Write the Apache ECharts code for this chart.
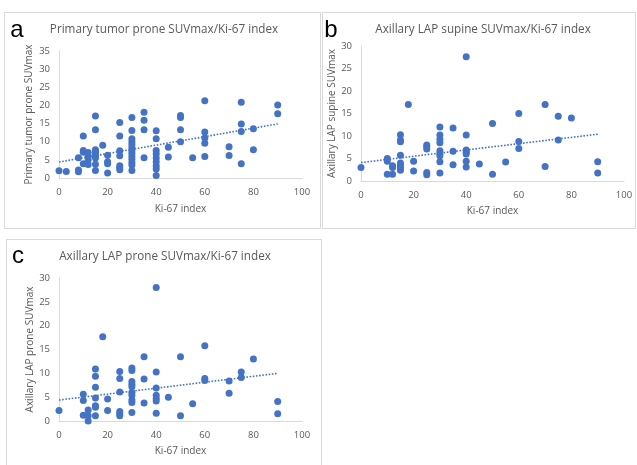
<!DOCTYPE html>
<html>
<head>
<meta charset="utf-8">
<script src="https://cdn.jsdelivr.net/npm/echarts@6/dist/echarts.min.js"></script>
<style>
html,body{margin:0;padding:0;background:#fff;}
#chart{width:637px;height:465px;}
</style>
</head>
<body>
<div id="chart"></div>
<script>
// Panel a: Primary tumor prone SUVmax vs Ki-67 index
var aKi = [0,3,8,8,8,10,10,10,10,12,12,12,12,
  15,15,15,15,15,15,15,15,15,
  18,
  20,20,20,20,
  25,25,25,25,25,25,25,
  30,30,30,30,30,30,30,30,30,30,30,30,30,
  35,35,35,35,
  40,40,40,40,40,40,40,40,40,
  45,45,
  50,50,50,50,
  55,
  60,60,60,60,60,
  70,70,
  75,75,75,75,
  80,80,
  90,90];
var aSuv = [2.0,1.8,2.2,1.7,5.6,11.6,7.6,7.1,3.9,7.0,6.0,5.0,3.7,
  17.1,13.3,7.8,7.3,6.7,6.0,5.5,3.8,2.1,
  9.0,
  6.3,4.5,3.9,1.4,
  15.3,11.6,7.5,6.1,3.4,2.8,2.3,
  16.7,13.1,10.8,10.0,9.2,8.4,7.6,6.8,6.0,5.2,4.3,3.6,2.1,
  18.1,15.9,13.3,5.6,
  13.0,10.8,7.6,6.6,5.5,4.5,3.4,2.5,0.7,
  8.5,5.8,
  17.2,16.7,13.3,10.0,
  5.6,
  21.3,12.7,11.0,9.6,5.9,
  8.6,6.2,
  20.9,14.9,12.8,3.9,
  13.6,7.8,
  20.1,17.7];
var aTrendKi = [0, 90];
var aTrendSuv = [4.4, 14.9];

// Panel b: Axillary LAP supine SUVmax vs Ki-67 index
var bKi = [0,10,10,10,12,12,12,
  15,15,15,15,15,15,15,15,
  18,20,20,
  25,25,25,25,25,
  30,30,30,30,30,30,30,30,30,
  35,35,35,
  40,40,40,40,40,40,40,
  45,50,50,55,60,60,60,70,70,75,75,80,90,90];
var bSuv = [3.0,5.0,4.4,1.5,3.4,3.0,1.5,
  10.3,9.1,8.7,5.7,4.0,3.4,3.0,2.4,
  17.0,4.4,2.2,
  8.0,7.6,7.1,1.9,1.4,
  12.0,10.2,9.3,8.5,6.7,6.1,5.6,4.3,1.8,
  11.8,6.6,3.6,
  27.6,10.2,6.9,6.4,6.0,4.4,3.1,
  3.8,12.8,1.5,4.2,15.0,8.8,7.2,17.0,3.2,14.4,9.1,14.0,4.3,1.8];
var bTrendKi = [0, 90];
var bTrendSuv = [4.1, 10.4];

// Panel c: Axillary LAP prone SUVmax vs Ki-67 index
var cKi = [0,10,10,10,12,12,12,
  15,15,15,15,15,15,15,
  18,20,20,
  25,25,25,25,25,25,
  30,30,30,30,30,30,30,30,30,30,
  35,35,35,
  40,40,40,40,40,40,40,
  45,50,50,55,60,60,60,70,70,75,75,80,90,90];
var cSuv = [2.2,5.6,4.3,1.2,2.3,1.1,0.0,
  10.9,9.4,7.1,4.8,3.2,2.9,1.1,
  17.7,4.6,2.2,
  10.4,8.9,6.1,2.0,1.5,1.1,
  11.1,10.6,8.3,7.7,7.2,6.0,5.4,4.4,3.9,1.8,
  13.5,8.8,3.8,
  28.0,10.3,6.9,5.4,4.7,4.2,1.6,
  5.0,13.5,1.1,3.6,15.8,8.9,8.5,8.4,5.8,10.3,9.1,13.0,4.1,1.5];
var cTrendKi = [0, 90];
var cTrendSuv = [4.4, 10.0];

var panelTitles = ["Primary tumor prone SUVmax/Ki-67 index",
                   "Axillary LAP supine SUVmax/Ki-67 index",
                   "Axillary LAP prone SUVmax/Ki-67 index"];
var panelLetters = ["a", "b", "c"];
var yNames = ["Primary tumor prone SUVmax", "Axillary LAP supine SUVmax", "Axillary LAP prone SUVmax"];
var xName = "Ki-67 index";
var yMaxes = [35, 30, 30];

function zip(xs, ys){ return xs.map(function(x,i){ return [x, ys[i]]; }); }

var FONT = "Open Sans";
var BLUE = "#4472C4";
var GREY = "#595959";
var LINE = "#d9d9d9";

var grids = [
  {left: 59, top: 51, width: 243, height: 127},
  {left: 361, top: 46, width: 263, height: 135},
  {left: 59, top: 278, width: 243, height: 143}
];
var yNameGaps = [25, 23, 24];
var xNameGaps = [26, 25, 25];

var xAxes = [], yAxes = [];
for (var i = 0; i < 3; i++) {
  xAxes.push({
    gridIndex: i, type: 'value', min: 0, max: 100, interval: 20,
    name: xName, nameLocation: 'middle', nameGap: xNameGaps[i],
    nameTextStyle: {color: GREY, fontFamily: FONT, fontSize: 10},
    axisLine: {show: true, lineStyle: {color: LINE, width: 1}},
    axisTick: {show: false},
    splitLine: {show: false},
    axisLabel: {color: GREY, fontFamily: FONT, fontSize: 9.5, margin: 9}
  });
  yAxes.push({
    gridIndex: i, type: 'value', min: 0, max: yMaxes[i], interval: 5,
    name: yNames[i], nameLocation: 'middle', nameGap: yNameGaps[i],
    nameTextStyle: {color: GREY, fontFamily: FONT, fontSize: 10},
    axisLine: {show: true, lineStyle: {color: LINE, width: 1}},
    axisTick: {show: false},
    splitLine: {show: false},
    axisLabel: {color: GREY, fontFamily: FONT, fontSize: 9.5, margin: 9}
  });
}

var scatterData = [zip(aKi, aSuv), zip(bKi, bSuv), zip(cKi, cSuv)];
var trendData = [zip(aTrendKi, aTrendSuv), zip(bTrendKi, bTrendSuv), zip(cTrendKi, cTrendSuv)];
var series = [];
for (var j = 0; j < 3; j++) {
  series.push({
    type: 'line', xAxisIndex: j, yAxisIndex: j, data: trendData[j],
    showSymbol: false, symbol: 'none', silent: true, z: 3,
    lineStyle: {color: BLUE, width: 1.6, type: [1.6, 1.6]}
  });
  series.push({
    type: 'scatter', xAxisIndex: j, yAxisIndex: j, data: scatterData[j],
    symbol: 'circle', symbolSize: 7, z: 2,
    itemStyle: {color: BLUE, opacity: 1}
  });
}

var boxes = [
  {x: 4.5, y: 12.5, w: 316, h: 216},
  {x: 322.5, y: 12.5, w: 313, h: 216},
  {x: 6.5, y: 239.5, w: 315, h: 240}
];
var titlePos = [[164, 30], [483, 30], [165, 257]];
var letterPos = [[17, 30], [331, 30], [18, 256]];
var graphics = [];
for (var k = 0; k < 3; k++) {
  graphics.push({
    type: 'rect', z: -1, silent: true,
    shape: {x: boxes[k].x, y: boxes[k].y, width: boxes[k].w, height: boxes[k].h},
    style: {fill: 'none', stroke: LINE, lineWidth: 1}
  });
  graphics.push({
    type: 'text', silent: true, x: titlePos[k][0], y: titlePos[k][1],
    style: {text: panelTitles[k], fill: GREY, font: '11.7px "' + FONT + '"',
            textAlign: 'center', textVerticalAlign: 'middle'}
  });
  graphics.push({
    type: 'text', silent: true, x: letterPos[k][0], y: letterPos[k][1],
    style: {text: panelLetters[k], fill: '#000', font: '24px "Liberation Sans"',
            textAlign: 'center', textVerticalAlign: 'middle'}
  });
}

var chart = echarts.init(document.getElementById('chart'), null, {renderer: 'canvas'});
chart.setOption({
  animation: false,
  backgroundColor: '#fff',
  grid: grids,
  xAxis: xAxes,
  yAxis: yAxes,
  series: series,
  graphic: graphics
});
</script>
</body>
</html>
